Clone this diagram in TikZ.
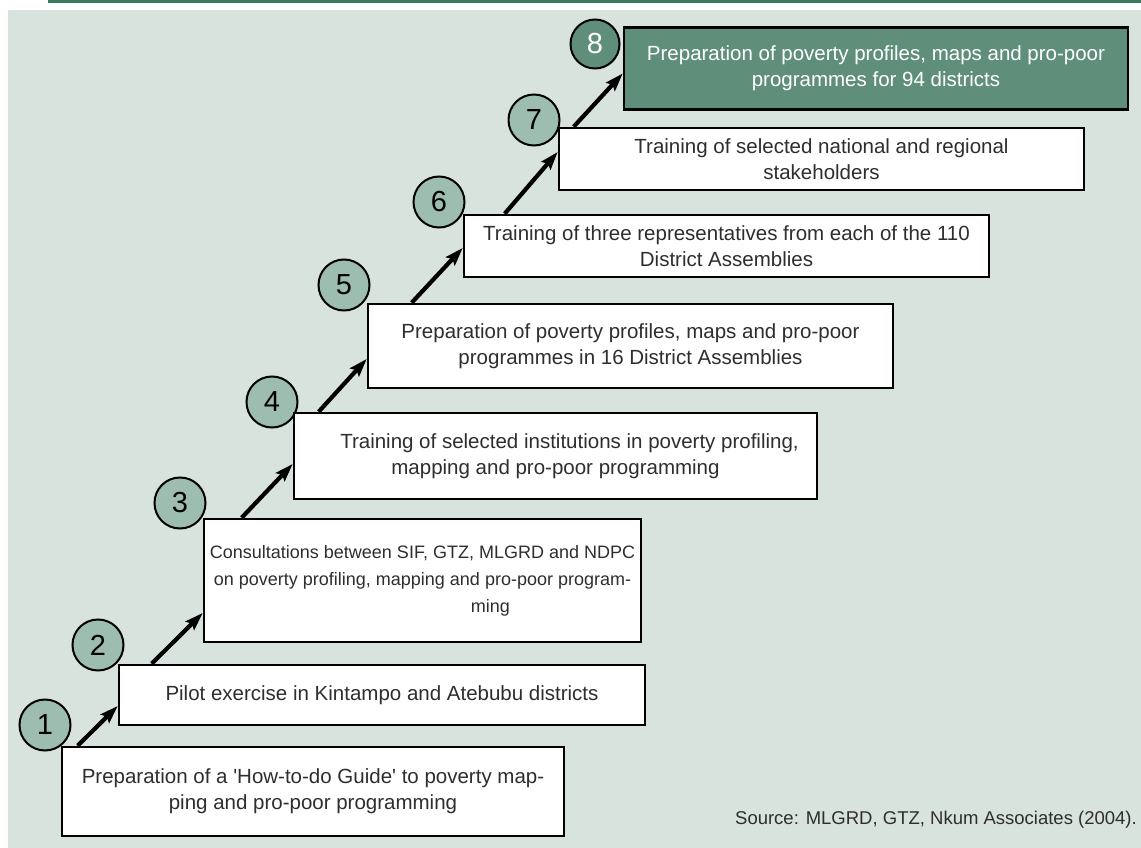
\documentclass[tikz,border=0pt]{standalone}
\usepackage{fontspec}
\setmainfont{Liberation Sans}
\usetikzlibrary{arrows.meta}
\definecolor{bgc}{HTML}{D8E3DE}
\definecolor{barc}{HTML}{3A7A5E}
\definecolor{circc}{HTML}{9DBDB0}
\definecolor{darkc}{HTML}{5F8F7B}
\definecolor{txtc}{HTML}{2E2E2E}
\begin{document}
\begin{tikzpicture}[x=1pt,y=-1pt,
  stepbox/.style={draw=black, line width=2.6pt, fill=white, rectangle, inner sep=0pt,
    align=center, text=txtc, font=\fontsize{20.5}{26}\selectfont},
  numcirc/.style={draw=black, line width=2pt, fill=circc, circle, inner sep=0pt,
    minimum size=51pt, text=black, font=\fontsize{29}{29}\selectfont},
  upstep/.style={line width=4.2pt, -{Stealth[length=18pt,width=12pt,inset=3pt]}}
]
\useasboundingbox (0,0) rectangle (1141,848);
\fill[bgc] (8,10) rectangle (1141,848);
\fill[barc] (48,0) rectangle (1141,3.5);

% circles (behind boxes)
\node[numcirc] (c1) at (45,725) {1};
\node[numcirc] (c2) at (98,645) {2};
\node[numcirc] (c3) at (180,503) {3};
\node[numcirc] (c4) at (272,402) {4};
\node[numcirc] (c5) at (344,285) {5};
\node[numcirc] (c6) at (439,202) {6};
\node[numcirc] (c7) at (534,120) {7};
\node[numcirc, fill=darkc, text=white, minimum size=49pt] (c8) at (595,44) {8};

% boxes
\node[stepbox, minimum width=502pt, minimum height=89pt] (b1) at (313,791.5)
  {Preparation of a \textquotesingle How-to-do Guide\textquotesingle\ to poverty map-\\ping and pro-poor programming};
\node[stepbox, minimum width=526pt, minimum height=60pt] (b2) at (382,695)
  {Pilot exercise in Kintampo and Atebubu districts};
\node[stepbox, minimum width=437pt, minimum height=123pt, font=\fontsize{18}{27}\selectfont] (b3) at (422.5,580.5)
  {Consultations between SIF, GTZ, MLGRD and NDPC\\on poverty profiling, mapping and pro-poor program-\\\hspace*{136pt}ming};
\node[stepbox, minimum width=523pt, minimum height=86pt] (b4) at (555.5,456)
  {\hspace*{28pt}Training of selected institutions in poverty profiling,\\mapping and pro-poor programming};
\node[stepbox, minimum width=525pt, minimum height=84pt] (b5) at (630.5,346)
  {Preparation of poverty profiles, maps and pro-poor\\programmes in 16 District Assemblies};
\node[stepbox, minimum width=525pt, minimum height=62pt] (b6) at (726.5,246)
  {Training of three representatives from each of the 110\\District Assemblies};
\node[stepbox, minimum width=525pt, minimum height=62pt] (b7) at (821.5,159)
  {Training of selected national and regional\\stakeholders};
\node[stepbox, fill=darkc, text=white, minimum width=504pt, minimum height=82pt] (b8) at (876,68.5)
  {Preparation of poverty profiles, maps and pro-poor\\programmes for 94 districts};

% arrows
\draw[upstep] ([xshift=17pt]b1.north west) -- ([yshift=-11pt]b2.west);
\draw[upstep] ([xshift=34pt]b2.north west) -- ([yshift=-32.5pt]b3.west);
\draw[upstep] ([xshift=39pt]b3.north west) -- ([yshift=-8pt]b4.west);
\draw[upstep] ([xshift=26pt]b4.north west) -- ([yshift=-13pt]b5.west);
\draw[upstep] ([xshift=45pt]b5.north west) -- ([yshift=-2pt]b6.west);
\draw[upstep] ([xshift=42pt]b6.north west) -- ([yshift=7pt]b7.west);
\draw[upstep] ([xshift=16pt]b7.north west) -- ([yshift=-5pt]b8.west);

% source
\node[anchor=east, text=txtc, font=\fontsize{18.5}{20}\selectfont, inner sep=0pt] (src) at (1137,820)
  {Source: MLGRD, GTZ, Nkum Associates (2004).};
\end{tikzpicture}
\end{document}
